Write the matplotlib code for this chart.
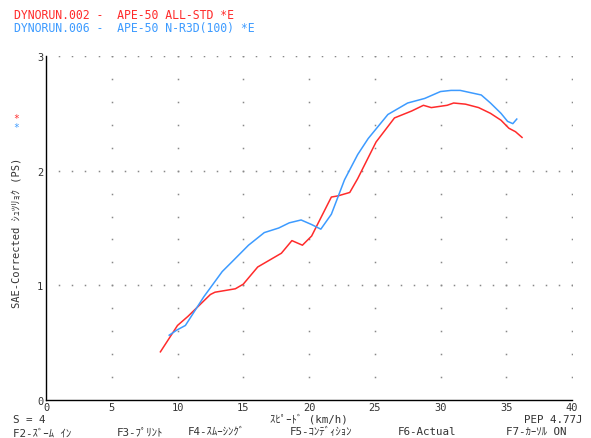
import numpy as np
import matplotlib
matplotlib.use("Agg")
import matplotlib.pyplot as plt

plt.rcParams['font.family'] = ['DejaVu Sans Mono', 'Noto Sans CJK JP']

# Run 002 - APE-50 ALL-STD (red)
speed_002 = [8.7, 10.0, 10.8, 12.5, 12.85, 14.4, 15.0, 16.1, 17.9, 18.7, 19.5, 20.2,
             21.7, 22.2, 23.1, 23.7, 25.1, 26.5, 27.8, 28.7, 29.3, 30.5, 31.0, 31.9,
             32.9, 33.8, 34.6, 35.2, 35.7, 36.2]
power_002 = [0.42, 0.65, 0.73, 0.92, 0.94, 0.97, 1.01, 1.16, 1.28, 1.39, 1.35, 1.43,
             1.77, 1.78, 1.81, 1.93, 2.25, 2.46, 2.52, 2.57, 2.55, 2.57, 2.59, 2.58,
             2.55, 2.50, 2.44, 2.37, 2.34, 2.29]

# Run 006 - APE-50 N-R3D(100) (blue)
speed_006 = [9.37, 9.95, 10.6, 12.0, 13.4, 14.1, 15.4, 16.6, 17.7, 18.5, 19.4, 20.2,
             20.9, 21.7, 22.7, 23.7, 24.5, 26.0, 27.5, 28.8, 30.0, 30.8, 31.5, 33.1,
             33.8, 34.6, 35.1, 35.5, 35.8]
power_006 = [0.565, 0.61, 0.65, 0.90, 1.12, 1.20, 1.35, 1.46, 1.50, 1.545, 1.57, 1.53,
             1.49, 1.62, 1.92, 2.14, 2.28, 2.49, 2.59, 2.63, 2.69, 2.70, 2.70, 2.66,
             2.59, 2.50, 2.43, 2.41, 2.45]

x_ticks = [0, 5, 10, 15, 20, 25, 30, 35, 40]
y_ticks = [0, 1, 2, 3]

RED = "#ff2b2b"
BLUE = "#3d9bff"
TXT = "#333333"

fig = plt.figure(figsize=(5.91, 4.39), dpi=100)
fig.patch.set_facecolor("white")
ax = fig.add_axes([46 / 591, 1 - 401 / 439, (572 - 46) / 591, (401 - 57) / 439])

# dotted grid
for gx in x_ticks[1:]:
    gy = np.arange(0.2, 3.01, 0.2)
    ax.plot([gx] * len(gy), gy, ls="none", marker="s", ms=1.1, mew=0, color="#888888")
for gy in y_ticks[1:]:
    gx = np.arange(1, 40.01, 1)
    ax.plot(gx, [gy] * len(gx), ls="none", marker="s", ms=1.1, mew=0, color="#888888")

ax.plot(speed_002, power_002, color=RED, lw=1.1)
ax.plot(speed_006, power_006, color=BLUE, lw=1.1)

ax.set_xlim(0, 40)
ax.set_ylim(0, 3)
ax.set_xticks(x_ticks)
ax.set_yticks(y_ticks)
ax.tick_params(length=0, labelsize=7.5, colors=TXT)
ax.tick_params(axis="x", pad=1.5)
ax.tick_params(axis="y", pad=2)
for s in ["top", "right"]:
    ax.spines[s].set_visible(False)
for s in ["left", "bottom"]:
    ax.spines[s].set_color("black")
    ax.spines[s].set_linewidth(1)
ax.patch.set_alpha(0)

fs = 8.3
fig.text(14 / 591, 1 - 19 / 439, "DYNORUN.002 -  APE-50 ALL-STD *E", color=RED,
         fontsize=fs, va="baseline")
fig.text(14 / 591, 1 - 32 / 439, "DYNORUN.006 -  APE-50 N-R3D(100) *E", color=BLUE,
         fontsize=fs, va="baseline")
fig.text(16 / 591, 1 - 122 / 439, "*", color=RED, fontsize=7, ha="center", va="baseline")
fig.text(16 / 591, 1 - 131 / 439, "*", color=BLUE, fontsize=7, ha="center", va="baseline")

fig.text(17 / 591, 1 - 233 / 439, "SAE-Corrected ｼｭﾂﾘｮｸ (PS)", rotation=90,
         fontsize=7.5, color=TXT, ha="center", va="center")

fs2 = 7.8
fig.text(13 / 591, 1 - 423 / 439, "S = 4", fontsize=fs2, color=TXT, va="baseline")
fig.text(309 / 591, 1 - 423 / 439, "ｽﾋﾟｰﾄﾞ (km/h)", fontsize=fs2, color=TXT,
         va="baseline", ha="center")
fig.text(583 / 591, 1 - 423 / 439, "PEP 4.77J", fontsize=fs2, color=TXT, va="baseline",
         ha="right")

# function-key row (F2 label sits a bit high with font fallback, nudge it down)
fkeys = [(13, 437, "F2-ｽﾞｰﾑ ｲﾝ"), (117, 435, "F3-ﾌﾟﾘﾝﾄ"), (188, 435, "F4-ｽﾑｰｼﾝｸﾞ"),
         (290, 435, "F5-ｺﾝﾃﾞｨｼｮﾝ"), (398, 435, "F6-Actual"), (506, 435, "F7-ｶｰｿﾙ ON")]
for px, py, label in fkeys:
    fig.text(px / 591, 1 - py / 439, label, fontsize=fs2, color=TXT, va="baseline")

fig.savefig("out.png", dpi=100)
